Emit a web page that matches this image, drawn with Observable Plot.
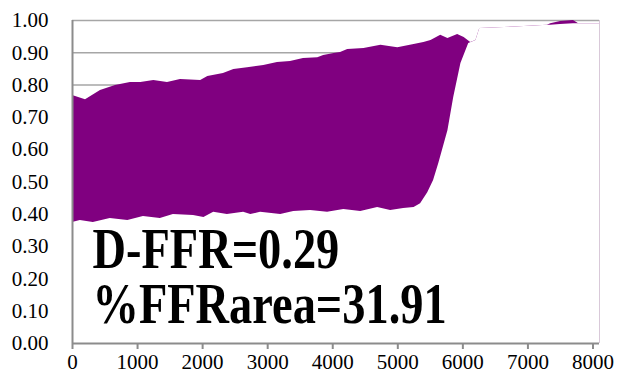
<!DOCTYPE html>
<html><head><meta charset="utf-8">
<script src="https://cdn.jsdelivr.net/npm/d3@7"></script>
<script src="https://cdn.jsdelivr.net/npm/@observablehq/plot@0.6"></script>
<style>body{margin:0;background:#fff}</style>
</head><body><div id="chart"></div>
<script>
// Upper envelope (max) of the pressure-ratio trace
const upperTime  = [0,200,430,660,890,1050,1250,1460,1660,1970,2080,2320,2480,2690,2940,3150,3350,3550,3770,3860,4020,4120,4230,4480,4740,5000,5250,5400,5510,5660,5770,5920,6020,6120,6200,6260,6800,7300,7350,7500,7700,7780,8100];
const upperValue = [0.768,0.755,0.783,0.799,0.808,0.808,0.814,0.808,0.817,0.814,0.827,0.836,0.848,0.854,0.861,0.870,0.873,0.882,0.885,0.892,0.898,0.901,0.910,0.913,0.923,0.916,0.926,0.932,0.938,0.954,0.944,0.957,0.947,0.932,0.938,0.975,0.980,0.985,0.990,0.997,1.000,0.990,0.990];
// Lower envelope (min) of the pressure-ratio trace
const lowerTime  = [0,120,320,580,850,1090,1350,1550,1860,2020,2170,2380,2630,2740,2890,3200,3400,3660,3920,4170,4430,4690,4890,5090,5250,5350,5460,5550,5630,5770,5860,5970,6090,6200,6260,6800,7300,7350,7500,7700,7780,8100];
const lowerValue = [0.375,0.381,0.375,0.387,0.381,0.393,0.387,0.399,0.396,0.390,0.406,0.399,0.406,0.399,0.406,0.399,0.409,0.412,0.406,0.415,0.409,0.421,0.412,0.418,0.421,0.433,0.467,0.505,0.557,0.659,0.762,0.867,0.929,0.938,0.975,0.980,0.985,0.985,0.988,0.990,0.990,0.990];
const xTicks = [0,1000,2000,3000,4000,5000,6000,7000,8000];
const yTicks = [0,0.1,0.2,0.3,0.4,0.5,0.6,0.7,0.8,0.9,1.0];
const gridValues = [0.1,0.2,0.3,0.4,0.5,0.6,0.7,0.8,0.9,1.0];
const annotations = ["D-FFR=0.29", "%FFRarea=31.91"];

const upper = upperTime.map((t, i) => ({t, v: upperValue[i]}));
const lower = lowerTime.map((t, i) => ({t, v: lowerValue[i]}));
const serif = "'Liberation Serif', 'Times New Roman', serif";

const chart = Plot.plot({
  width: 617, height: 371,
  marginLeft: 72, marginRight: 18, marginTop: 20, marginBottom: 28,
  style: {fontFamily: serif, fontSize: "21px", color: "#000", background: "#fff"},
  x: {domain: [0, 8100], label: null},
  y: {domain: [0, 1], label: null},
  marks: [
    Plot.ruleY(gridValues, {stroke: "#a6a6a6", strokeWidth: 1.5}),
    Plot.areaY(upper, {x: "t", y: "v", fill: "#800080"}),
    Plot.areaY(lower, {x: "t", y: "v", fill: "#ffffff"}),
    Plot.ruleX([8100], {stroke: "#d9c9d9", strokeWidth: 1}),
    Plot.ruleX([0], {stroke: "#8c8c8c", strokeWidth: 2}),
    Plot.ruleY([0], {stroke: "#8c8c8c", strokeWidth: 2}),
    Plot.axisY({ticks: yTicks, tickSize: 0, tickPadding: 24, tickFormat: d3.format(".2f"), label: null, fill: "#000", fontSize: 21}),
    Plot.axisX({ticks: xTicks, tickSize: 6, tickPadding: 5, tickFormat: d3.format("d"), label: null, stroke: "#8c8c8c", strokeWidth: 2, fill: "#000", fontSize: 21}),
    Plot.text(annotations.slice(0, 1), {text: d => d, frameAnchor: "bottom-left", dx: 20, dy: -76, textAnchor: "start", lineAnchor: "bottom", fontSize: 58, fontWeight: "bold", fill: "#000", className: "bigtext"}),
    Plot.text(annotations.slice(1, 2), {text: d => d, frameAnchor: "bottom-left", dx: 20, dy: -21, textAnchor: "start", lineAnchor: "bottom", fontSize: 58, fontWeight: "bold", fill: "#000", className: "bigtext"})
  ]
});
document.getElementById("chart").appendChild(chart);
d3.select(chart).selectAll("text").style("font-family", serif);
d3.select(chart).selectAll(".bigtext text").each(function() {
  const w = this.getComputedTextLength();
  d3.select(this).attr("textLength", w * 0.8).attr("lengthAdjust", "spacingAndGlyphs");
});
</script>
</body></html>
